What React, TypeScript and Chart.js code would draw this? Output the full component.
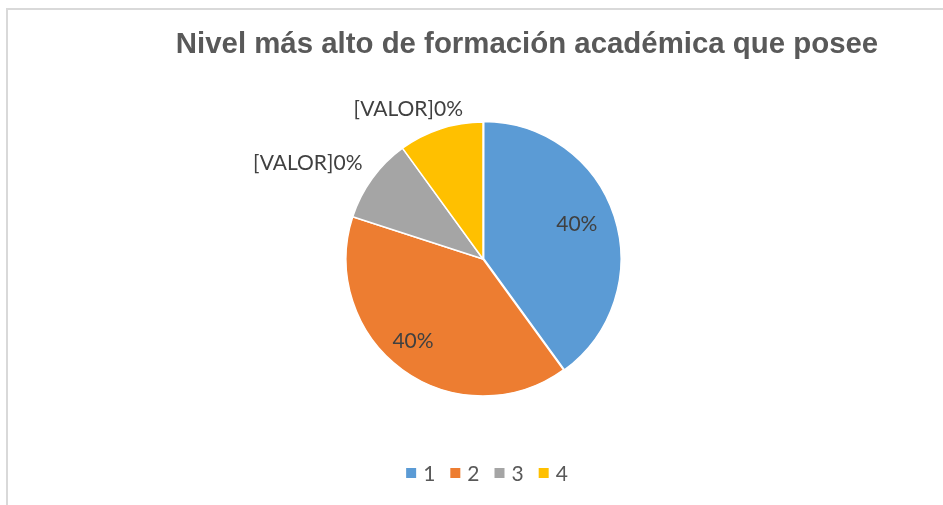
import React, { useEffect, useRef } from "react";
import { Chart, registerables } from "chart.js";

Chart.register(...registerables);

const titleText = "Nivel más alto de formación académica que posee";
const categories = ["1", "2", "3", "4"];
const values = [40, 40, 10, 10];
const labelTexts = ["40%", "40%", "[VALOR]0%", "[VALOR]0%"];
const colors = ["#5b9bd5", "#ed7d31", "#a5a5a5", "#ffc000"];

// small placement tweaks (Excel "best fit" label positions)
const labelNudge = [
  [0, -4],
  [-12, 2],
  [0, 0],
  [26, 0],
];

const labelPlugin = {
  id: "excelLabels",
  afterDatasetsDraw(chart: any) {
    const ctx = chart.ctx as CanvasRenderingContext2D;
    const meta = chart.getDatasetMeta(0);
    ctx.save();
    ctx.fillStyle = "#404040";
    ctx.font = "21px Lato";
    meta.data.forEach((arc: any, i: number) => {
      const { x, y, startAngle, endAngle, outerRadius } = arc.getProps(
        ["x", "y", "startAngle", "endAngle", "outerRadius"],
        true
      );
      const mid = (startAngle + endAngle) / 2;
      const text = labelTexts[i];
      const [nx, ny] = labelNudge[i];
      if (values[i] >= 20) {
        const r = outerRadius * 0.72;
        ctx.textAlign = "center";
        ctx.textBaseline = "middle";
        ctx.fillText(text, x + Math.cos(mid) * r + nx, y + Math.sin(mid) * r + ny);
      } else {
        const r = outerRadius + 12;
        ctx.textAlign = "right";
        ctx.textBaseline = "bottom";
        ctx.fillText(text, x + Math.cos(mid) * r + nx, y + Math.sin(mid) * r + 2 + ny);
      }
    });
    // title
    ctx.fillStyle = "#595959";
    ctx.font = "bold 29.4px 'Liberation Sans', Arial";
    ctx.textAlign = "center";
    ctx.textBaseline = "alphabetic";
    ctx.fillText(titleText, 527, 53);
    // legend
    ctx.font = "21px Lato";
    ctx.textBaseline = "middle";
    ctx.textAlign = "left";
    const legendY = 473;
    const widths = categories.map((c) => ctx.measureText(c).width);
    const box = 10;
    const gapBoxText = 7;
    const gapItems = 15;
    const total =
      widths.reduce((a, w) => a + box + gapBoxText + w, 0) + gapItems * (categories.length - 1);
    let cx = 487 - total / 2;
    categories.forEach((c, i) => {
      ctx.fillStyle = colors[i];
      ctx.fillRect(cx, legendY - box / 2, box, box);
      cx += box + gapBoxText;
      ctx.fillStyle = "#595959";
      ctx.fillText(c, cx, legendY + 1);
      cx += widths[i] + gapItems;
    });
    ctx.restore();
  },
};

export default function App() {
  const canvasRef = useRef<HTMLCanvasElement | null>(null);
  useEffect(() => {
    if (!canvasRef.current) return;
    const chart = new Chart(canvasRef.current, {
      type: "pie",
      data: {
        labels: categories,
        datasets: [
          {
            data: values,
            backgroundColor: colors,
            borderColor: "#ffffff",
            borderWidth: 1.5,
            offset: [3, 0, 0, 0],
            radius: 137,
          } as any,
        ],
      },
      options: {
        animation: false,
        responsive: false,
        maintainAspectRatio: false,
        layout: { padding: { left: 340, right: 317, top: 116, bottom: 103 } },
        plugins: {
          legend: { display: false },
          title: { display: false },
          tooltip: { enabled: false },
        },
      },
      plugins: [labelPlugin],
    });
    return () => chart.destroy();
  }, []);
  return (
    <div style={{ position: "fixed", left: 0, top: 0, width: 943, height: 505, background: "#fff", overflow: "hidden" }}>
      <div
        style={{
          position: "absolute",
          left: 6,
          top: 8,
          width: 960,
          height: 520,
          border: "2px solid #d9d9d9",
          boxSizing: "border-box",
        }}
      />
      <canvas ref={canvasRef} width={943} height={505} style={{ position: "absolute", left: 0, top: 0 }} />
    </div>
  );
}
